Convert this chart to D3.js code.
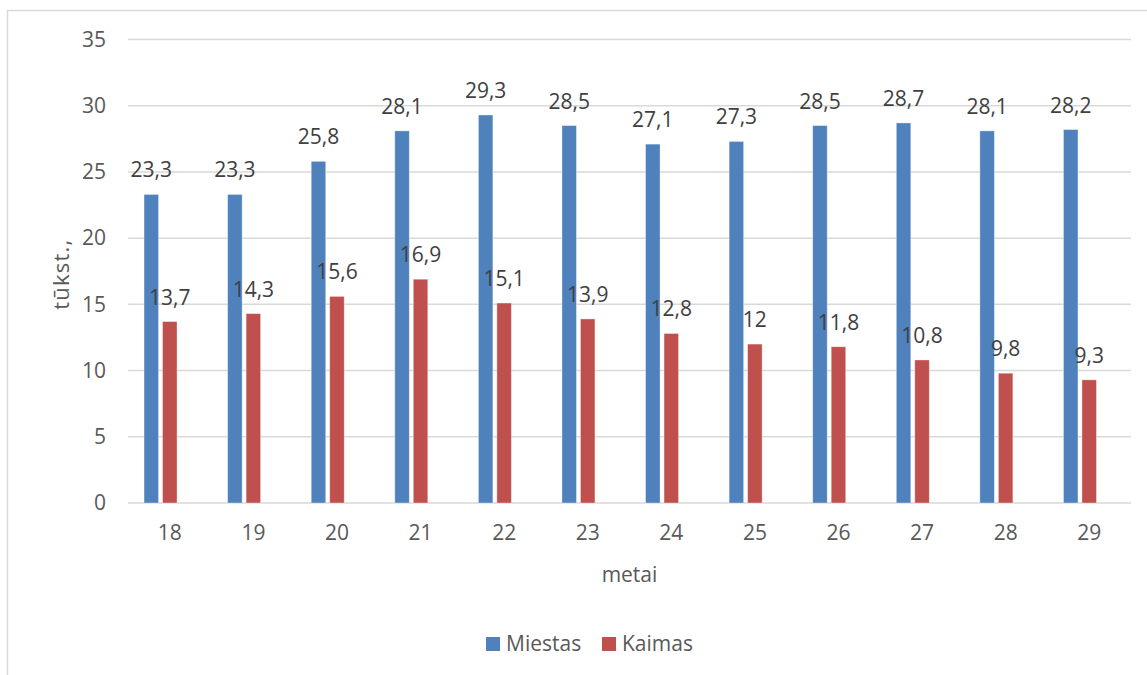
<!DOCTYPE html>
<html>
<head>
<meta charset="utf-8">
<script src="https://cdn.jsdelivr.net/npm/d3@7.9.0/dist/d3.min.js"></script>
<style>
  body { margin: 0; background: #fff; }
  svg { display: block; font-family: "Open Sans", "Liberation Sans", sans-serif; }
</style>
</head>
<body>
<svg id="chart" width="1147" height="675"></svg>
<script>
const years = ["18", "19", "20", "21", "22", "23", "24", "25", "26", "27", "28", "29"];
const miestas = [23.3, 23.3, 25.8, 28.1, 29.3, 28.5, 27.1, 27.3, 28.5, 28.7, 28.1, 28.2];
const kaimas = [13.7, 14.3, 15.6, 16.9, 15.1, 13.9, 12.8, 12, 11.8, 10.8, 9.8, 9.3];
const yTicks = [0, 5, 10, 15, 20, 25, 30, 35];
// the source chart keeps an empty third slot in every cluster
const seriesNames = ["Miestas", "Kaimas", ""];
const seriesColors = ["#4f81bd", "#c0504d"];
const seriesValues = [miestas, kaimas];

const svg = d3.select("#chart");
const margin = { left: 128, right: 1131, top: 39.5, bottom: 503 };

// chart frame (only left/top visible in the crop)
svg.append("rect")
  .attr("x", 7.5).attr("y", 10.5)
  .attr("width", 1200).attr("height", 700)
  .attr("fill", "none")
  .attr("stroke", "#d9d9d9")
  .attr("stroke-width", 1.5);

const x0 = d3.scaleBand()
  .domain(years)
  .range([margin.left, margin.right])
  .paddingInner(0.384)
  .paddingOuter(0.192);

const x1 = d3.scaleBand()
  .domain(seriesNames)
  .range([0, x0.bandwidth()])
  .paddingInner(0.216)
  .paddingOuter(0);

const y = d3.scaleLinear()
  .domain([0, 35])
  .range([margin.bottom, margin.top]);

// gridlines
svg.append("g")
  .selectAll("line")
  .data(yTicks)
  .join("line")
  .attr("x1", margin.left).attr("x2", margin.right)
  .attr("y1", (d) => y(d)).attr("y2", (d) => y(d))
  .attr("stroke", "#d9d9d9")
  .attr("stroke-width", 1.5);

// y axis labels
const yAxis = svg.append("g")
  .attr("transform", `translate(${margin.left},0)`)
  .call(d3.axisLeft(y).tickValues(yTicks).tickSize(0).tickPadding(22));
yAxis.select(".domain").remove();
yAxis.selectAll("text")
  .attr("fill", "#595959")
  .attr("font-size", 21)
  .attr("font-family", "Open Sans, Liberation Sans, sans-serif");

// x axis labels
const xAxis = svg.append("g")
  .attr("transform", `translate(0,${margin.bottom})`)
  .call(d3.axisBottom(x0.copy().paddingInner(0).paddingOuter(0)).tickSize(0).tickPadding(22));
xAxis.select(".domain").remove();
xAxis.selectAll("text")
  .attr("fill", "#595959")
  .attr("font-size", 21)
  .attr("font-family", "Open Sans, Liberation Sans, sans-serif");

// bars
seriesValues.forEach((values, s) => {
  const g = svg.append("g");
  g.selectAll("rect")
    .data(values)
    .join("rect")
    .attr("x", (d, i) => x0(years[i]) + x1(seriesNames[s]))
    .attr("y", (d) => y(d))
    .attr("width", x1.bandwidth())
    .attr("height", (d) => y(0) - y(d))
    .attr("fill", seriesColors[s])
    .attr("stroke", "#ffffff")
    .attr("stroke-opacity", 0.45)
    .attr("stroke-width", 0.8);

  g.selectAll("text")
    .data(values)
    .join("text")
    .attr("x", (d, i) => x0(years[i]) + x1(seriesNames[s]) + x1.bandwidth() / 2)
    .attr("y", (d) => y(d) - 17)
    .attr("text-anchor", "middle")
    .attr("fill", "#404040")
    .attr("font-size", 21)
    .text((d) => String(d).replace(".", ","));
});

// axis titles
svg.append("text")
  .attr("transform", `translate(69,${(margin.top + margin.bottom) / 2 + 3}) rotate(-90)`)
  .attr("text-anchor", "middle")
  .attr("fill", "#595959")
  .attr("font-size", 22)
  .attr("letter-spacing", 1.2)
  .text("tūkst.,");

svg.append("text")
  .attr("x", (margin.left + margin.right) / 2)
  .attr("y", 582)
  .attr("text-anchor", "middle")
  .attr("fill", "#595959")
  .attr("font-size", 21)
  .text("metai");

// legend
const legendItems = [
  { name: "Miestas", color: seriesColors[0], x: 486 },
  { name: "Kaimas", color: seriesColors[1], x: 602 },
];
const legend = svg.append("g");
legendItems.forEach((item) => {
  legend.append("rect")
    .attr("x", item.x).attr("y", 637)
    .attr("width", 14).attr("height", 14)
    .attr("fill", item.color);
  legend.append("text")
    .attr("x", item.x + 20).attr("y", 651)
    .attr("fill", "#595959")
    .attr("font-size", 21)
    .text(item.name);
});
</script>
</body>
</html>
